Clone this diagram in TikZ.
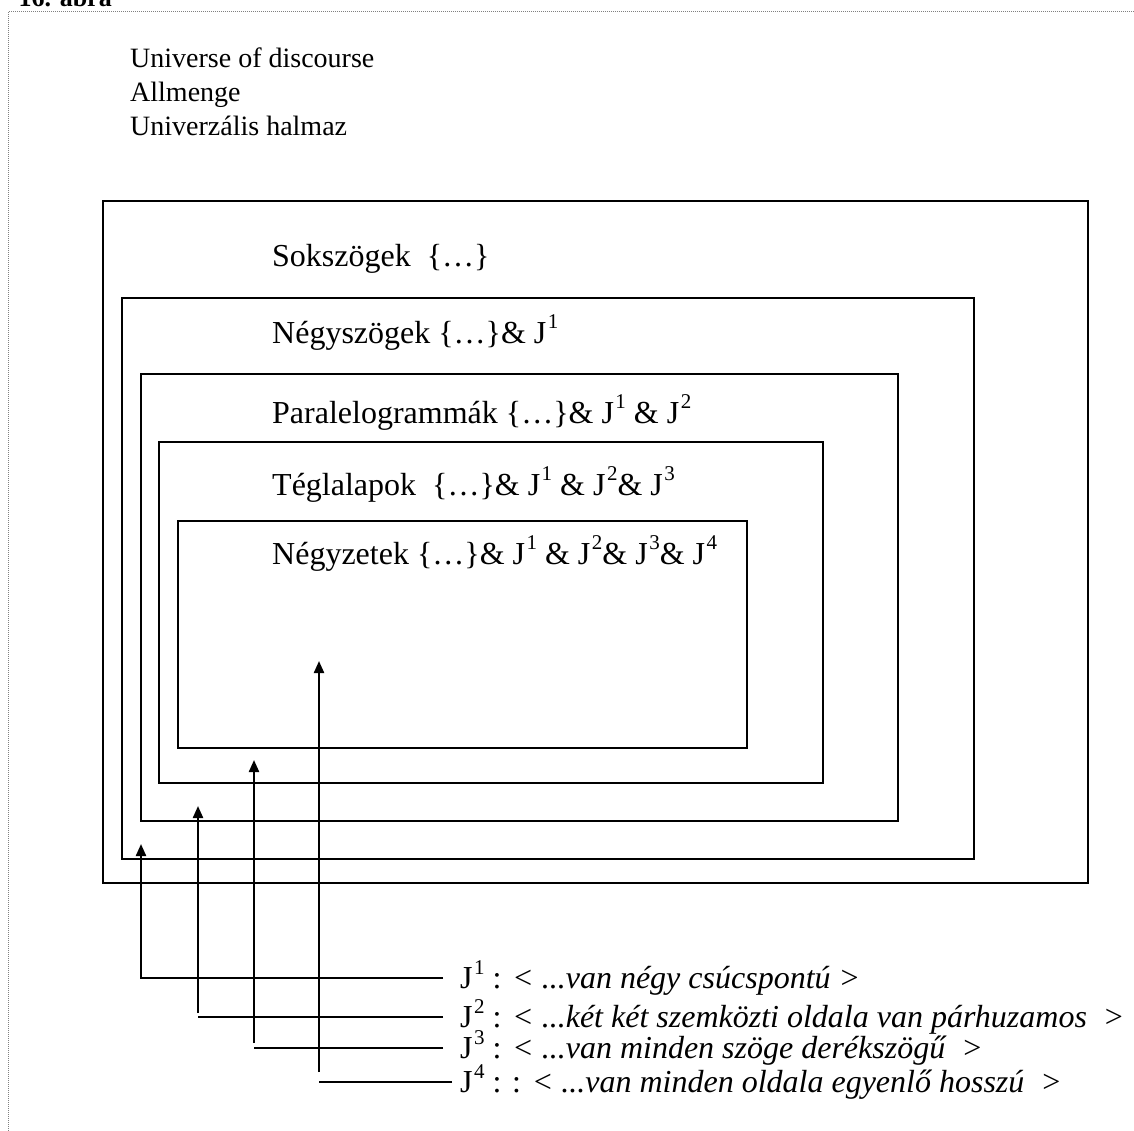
\documentclass[tikz,border=0pt]{standalone}
\usepackage{fontspec}
\setmainfont{Liberation Serif}
\usepackage{tikz}
\usetikzlibrary{arrows.meta, positioning}

% raised index after J
\newcommand{\jidx}[1]{\kern1.5pt\raisebox{0.45em}{\fontsize{21}{21}\selectfont #1}}

\tikzset{
    setbox/.style={draw=black, line width=1.7pt},
    headline/.style={anchor=base west, inner sep=0pt, font=\fontsize{28}{34}\selectfont},
    setlabel/.style={anchor=base west, inner sep=0pt, font=\fontsize{32}{36}\selectfont},
    proplabel/.style={anchor=west, inner ysep=2pt, inner xsep=17pt, font=\fontsize{32}{36}\selectfont},
    pointer/.style={line width=2.2pt, -{Triangle[width=10pt, length=12pt]}},
    plainline/.style={line width=2.2pt}
}

\begin{document}
\begin{tikzpicture}[x=1pt, y=-1pt]
    \useasboundingbox (0, 0) rectangle (1134, 1131);

    % Page frame and cut-off caption
    \draw[gray, densely dotted, line width=1pt] (1134, 12) -| (8, 1131);
    \node[anchor=base east, inner sep=0pt, font=\bfseries\fontsize{26}{30}\selectfont] (caption) at (112, 7) {16. ábra};

    % Universe of discourse
    \node[headline] (universe) at (130, 68) {Universe of discourse};
    \node[headline] (allmenge) at (130, 102) {Allmenge};
    \node[headline] (halmaz) at (130, 136) {Univerzális halmaz};

    % Nested sets
    \draw[setbox] (103, 201) rectangle (1088, 883);
    \draw[setbox] (122, 298) rectangle (974, 859);
    \draw[setbox] (141, 374) rectangle (898, 821);
    \draw[setbox] (159, 442) rectangle (823, 783);
    \draw[setbox] (178, 521) rectangle (747, 748);

    \node[setlabel] (poly) at (272, 267) {Sokszögek \ \{…\}};
    \node[setlabel] (quad) at (272, 343) {Négyszögek \{…\}\& J\jidx{1}};
    \node[setlabel] (para) at (272, 423) {Paralelogrammák \{…\}\& J\jidx{1} \& J\jidx{2}};
    \node[setlabel] (rect) at (272, 495) {Téglalapok \ \{…\}\& J\jidx{1} \& J\jidx{2}\& J\jidx{3}};
    \node[setlabel] (square) at (272, 564) {Négyzetek \{…\}\& J\jidx{1} \& J\jidx{2}\& J\jidx{3}\& J\jidx{4}};

    % Properties
    \node[proplabel] (j1) at (443, 978) {J\jidx{1} : \textit{< ...van négy csúcspontú >}};
    \node[proplabel] (j2) at (443, 1017) {J\jidx{2} : \textit{< ...két két szemközti oldala van párhuzamos \ >}};
    \node[proplabel] (j3) at (443, 1048) {J\jidx{3} : \textit{< ...van minden szöge derékszögű \ >}};
    \node[proplabel, inner xsep=8pt] (j4) at (452, 1082) {J\jidx{4} : : \textit{< ...van minden oldala egyenlő hosszú \ >}};

    % Arrow tips inside the sets
    \coordinate (t1) at (141, 844);
    \coordinate (t2) at (198, 806);
    \coordinate (t3) at (254, 760);
    \coordinate (t4) at (319, 661);

    % Connectors
    \draw[pointer] (j1.west) -| (t1);
    \draw[plainline] (j2.west) -- (j2.west -| t2);
    \draw[pointer] ([yshift=4pt]j2.west -| t2) -- (t2);
    \draw[plainline] (j3.west) -- (j3.west -| t3);
    \draw[pointer] ([yshift=5pt]j3.west -| t3) -- (t3);
    \draw[plainline] (j4.west) -- (j4.west -| t4);
    \draw[pointer] ([yshift=10pt]j4.west -| t4) -- (t4);
\end{tikzpicture}
\end{document}
